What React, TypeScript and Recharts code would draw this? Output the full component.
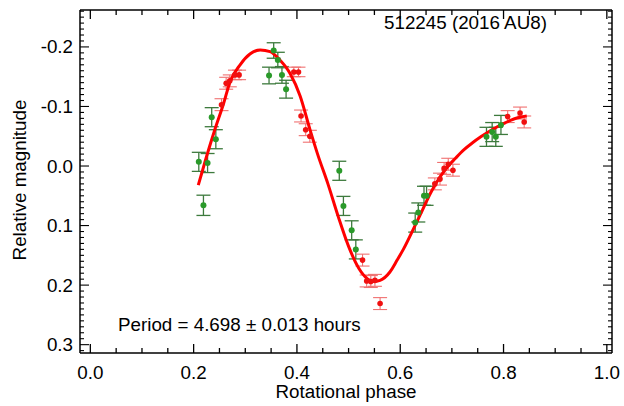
import { ComposedChart, Line, Scatter, ErrorBar, XAxis, YAxis } from 'recharts';

const greenPhase = [0.210, 0.219, 0.227, 0.235, 0.243, 0.346, 0.355, 0.363, 0.371, 0.379, 0.482, 0.490, 0.506, 0.514, 0.629, 0.635, 0.646, 0.651, 0.767, 0.778, 0.785, 0.795];
const greenMag = [-0.007, 0.066, -0.005, -0.082, -0.045, -0.152, -0.194, -0.178, -0.153, -0.129, 0.008, 0.067, 0.108, 0.140, 0.095, 0.078, 0.050, 0.050, -0.049, -0.057, -0.049, -0.069];
const greenErr = [0.016, 0.017, 0.016, 0.016, 0.016, 0.014, 0.013, 0.013, 0.014, 0.015, 0.016, 0.016, 0.016, 0.016, 0.016, 0.016, 0.016, 0.016, 0.016, 0.016, 0.016, 0.016];

const redPhase = [0.254, 0.263, 0.270, 0.280, 0.288, 0.394, 0.403, 0.408, 0.417, 0.425, 0.527, 0.535, 0.543, 0.551, 0.561, 0.667, 0.677, 0.685, 0.693, 0.702, 0.808, 0.832, 0.840];
const redMag = [-0.103, -0.139, -0.143, -0.153, -0.153, -0.158, -0.158, -0.084, -0.061, -0.050, 0.158, 0.193, 0.194, 0.192, 0.231, 0.030, 0.022, 0.004, -0.003, 0.007, -0.083, -0.089, -0.074];
const redErr = [0.010, 0.010, 0.010, 0.008, 0.008, 0.008, 0.008, 0.010, 0.010, 0.010, 0.010, 0.010, 0.010, 0.010, 0.010, 0.010, 0.010, 0.010, 0.010, 0.010, 0.010, 0.010, 0.010];

// Fourier fit
const fitPhase = [0.209, 0.225, 0.241, 0.258, 0.270, 0.290, 0.309, 0.329, 0.348, 0.367, 0.387, 0.406, 0.425, 0.440, 0.460, 0.480, 0.500, 0.520, 0.536, 0.548, 0.561, 0.580, 0.594, 0.606, 0.627, 0.643, 0.659, 0.675, 0.691, 0.707, 0.723, 0.740, 0.756, 0.772, 0.788, 0.804, 0.820, 0.832, 0.845];
const fitMag = [0.032, -0.016, -0.061, -0.105, -0.140, -0.170, -0.188, -0.195, -0.192, -0.178, -0.155, -0.118, -0.062, -0.020, 0.030, 0.085, 0.135, 0.172, 0.189, 0.194, 0.192, 0.178, 0.158, 0.140, 0.103, 0.074, 0.045, 0.021, 0.002, -0.013, -0.027, -0.039, -0.049, -0.058, -0.066, -0.073, -0.079, -0.082, -0.084];

const xLabels = [0.0, 0.2, 0.4, 0.6, 0.8, 1.0];
const yLabels = [-0.2, -0.1, 0.0, 0.1, 0.2, 0.3];

const title = '512245 (2016 AU8)';
const periodText = 'Period = 4.698 \u00b1 0.013 hours';

const FONT = '"Liberation Sans", Arial, Helvetica, sans-serif';
const FS = 18.8;

const green = greenPhase.map((p, i) => ({ phase: p, mag: greenMag[i], err: greenErr[i] }));
const red = redPhase.map((p, i) => ({ phase: p, mag: redMag[i], err: redErr[i] }));
const fit = fitPhase.map((p, i) => ({ phase: p, mag: fitMag[i] }));

// minor tick positions (0.05 on x, 0.01 on y)
const xTicks: number[] = [];
for (let i = 0; i <= 20; i++) xTicks.push(Math.round(i * 5) / 100);
const yTicks: number[] = [];
for (let i = -26; i <= 31; i++) yTicks.push(i / 100);

const isLabel = (list: number[], v: number) => list.some(m => Math.abs(m - v) < 1e-6);

const BottomTick = (props: any) => {
  const { x, y, payload } = props;
  const major = isLabel(xLabels, payload.value);
  return (
    <g>
      <line x1={x} y1={y} x2={x} y2={y - (major ? 9 : 5)} stroke="#000" strokeWidth={1.3} />
      {major && (
        <text x={x} y={y + 25.5} textAnchor="middle" fontSize={FS} fontFamily={FONT} fill="#000">
          {payload.value.toFixed(1)}
        </text>
      )}
    </g>
  );
};

const TopTick = (props: any) => {
  const { x, y, payload } = props;
  const major = isLabel(xLabels, payload.value);
  return <line x1={x} y1={y} x2={x} y2={y + (major ? 9 : 5)} stroke="#000" strokeWidth={1.3} />;
};

const LeftTick = (props: any) => {
  const { x, y, payload } = props;
  const major = isLabel(yLabels, payload.value);
  return (
    <g>
      <line x1={x} y1={y} x2={x + (major ? 9 : 4)} y2={y} stroke="#000" strokeWidth={1.1} />
      {major && (
        <text x={x - 7} y={y + 6.5} textAnchor="end" fontSize={FS} fontFamily={FONT} fill="#000">
          {payload.value.toFixed(1)}
        </text>
      )}
    </g>
  );
};

const RightTick = (props: any) => {
  const { x, y, payload } = props;
  const major = isLabel(yLabels, payload.value);
  return <line x1={x} y1={y} x2={x - (major ? 9 : 4)} y2={y} stroke="#000" strokeWidth={1.1} />;
};

const GreenDot = (props: any) => <circle cx={props.cx} cy={props.cy} r={3} fill="#2a9a2a" />;
const RedDot = (props: any) => <circle cx={props.cx} cy={props.cy} r={2.8} fill="#f01010" />;

export default function App() {
  const axisLine = { stroke: '#000', strokeWidth: 1.5 };
  return (
    <div style={{ position: 'absolute', left: 0, top: 0, width: 624, height: 406, background: '#fff', fontFamily: FONT }}>
      <ComposedChart width={624} height={406} margin={{ top: 9, right: 11, bottom: 52, left: 79 }}>
        <XAxis xAxisId="b" orientation="bottom" type="number" dataKey="phase" domain={[-0.02, 1.01]} allowDataOverflow
          ticks={xTicks} interval={0} tick={<BottomTick />} tickLine={false} tickSize={0} tickMargin={0} height={1} axisLine={axisLine} />
        <XAxis xAxisId="t" orientation="top" type="number" dataKey="phase" domain={[-0.02, 1.01]} allowDataOverflow
          ticks={xTicks} interval={0} tick={<TopTick />} tickLine={false} tickSize={0} tickMargin={0} height={1} axisLine={axisLine} />
        <YAxis yAxisId="l" orientation="left" type="number" dataKey="mag" domain={[-0.262, 0.314]} reversed allowDataOverflow
          ticks={yTicks} interval={0} tick={<LeftTick />} tickLine={false} tickSize={0} tickMargin={0} width={1} axisLine={axisLine} />
        <YAxis yAxisId="r" orientation="right" type="number" dataKey="mag" domain={[-0.262, 0.314]} reversed allowDataOverflow
          ticks={yTicks} interval={0} tick={<RightTick />} tickLine={false} tickSize={0} tickMargin={0} width={1} axisLine={axisLine} />

        <Scatter data={green} dataKey="mag" xAxisId="b" yAxisId="l" shape={<GreenDot />} isAnimationActive={false}>
          <ErrorBar dataKey="err" direction="y" width={7} stroke="#3d7a3d" strokeWidth={1.3} isAnimationActive={false} />
        </Scatter>
        <Scatter data={red} dataKey="mag" xAxisId="b" yAxisId="l" shape={<RedDot />} isAnimationActive={false}>
          <ErrorBar dataKey="err" direction="y" width={7} stroke="#f07070" strokeWidth={1.1} isAnimationActive={false} />
        </Scatter>
        <Line data={fit} dataKey="mag" xAxisId="b" yAxisId="l" type="monotone" stroke="#ff0000" strokeWidth={3}
          dot={false} activeDot={false} isAnimationActive={false} />
      </ComposedChart>

      <div style={{ position: 'absolute', left: 384, top: 13, fontSize: FS, lineHeight: '20px', whiteSpace: 'nowrap' }}>{title}</div>
      <div style={{ position: 'absolute', left: 118, top: 315, fontSize: FS, lineHeight: '20px', whiteSpace: 'nowrap' }}>{periodText}</div>
      <div style={{ position: 'absolute', left: 246, width: 200, top: 384, fontSize: FS, lineHeight: '16px', textAlign: 'center', whiteSpace: 'nowrap' }}>
        Rotational phase
      </div>
      <div style={{ position: 'absolute', left: 20, top: 180, fontSize: FS, lineHeight: '20px', whiteSpace: 'nowrap', transform: 'translate(-50%, -50%) rotate(-90deg)' }}>
        Relative magnitude
      </div>
    </div>
  );
}
